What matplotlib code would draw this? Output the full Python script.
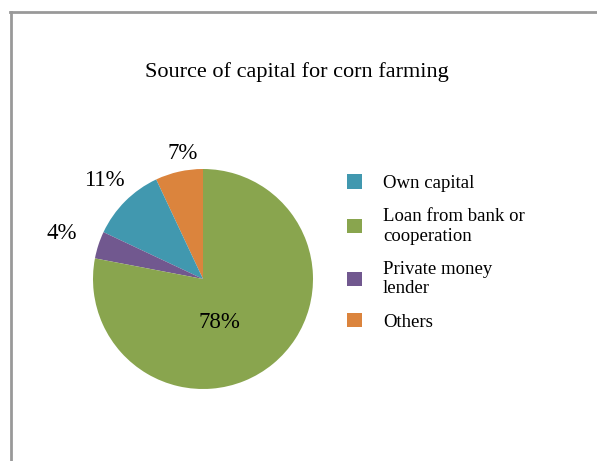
import numpy as np
import matplotlib.pyplot as plt
from matplotlib.lines import Line2D
from matplotlib.patches import Patch

plt.rcParams['font.family'] = ['Liberation Serif', 'DejaVu Serif']

# data
labels = ['Own capital', 'Loan from bank or\ncooperation', 'Private money\nlender', 'Others']
shares = [11, 78, 4, 7]
colors = ['#4198AF', '#89A54E', '#71588F', '#DB843D']

# drawing order around the pie (counter-clockwise from top)
order = [3, 0, 2, 1]
# label placement: (distance from centre, angle nudge in degrees)
label_pos = {3: (1.16, -3.5), 0: (1.27, 0), 2: (1.35, 0), 1: (0.42, -19)}

fig = plt.figure(figsize=(5.97, 4.61), dpi=100)

# chart frame (left and top edges only, as in the original)
fig.add_artist(Line2D([11 / 597, 11 / 597], [0, 1 - 12 / 461], color='#999999', lw=2))
fig.add_artist(Line2D([10 / 597, 1], [1 - 12 / 461, 1 - 12 / 461], color='#999999', lw=2))

fig.text(297 / 597, 1 - 72 / 461, 'Source of capital for corn farming',
         ha='center', va='center', fontsize=16)

r = 110
ax = fig.add_axes([(203 - r) / 597, (461 - 279 - r) / 461, 2 * r / 597, 2 * r / 461])
wedges, _ = ax.pie([shares[i] for i in order], colors=[colors[i] for i in order],
                   startangle=90, counterclock=True, radius=1)
ax.set_xlim(-1, 1)
ax.set_ylim(-1, 1)
ax.set_aspect('equal')
ax.axis('off')

for w, i in zip(wedges, order):
    d, nudge = label_pos[i]
    mid = np.deg2rad((w.theta1 + w.theta2) / 2 + nudge)
    ax.text(d * np.cos(mid), d * np.sin(mid), f'{shares[i]}%',
            ha='center', va='center', fontsize=16.5, clip_on=False)

handles = [Patch(facecolor=c, edgecolor='none') for c in colors]
fig.legend(handles, labels, loc='upper left', bbox_to_anchor=(338 / 597, 1 - 165 / 461),
           frameon=False, fontsize=13.5, handlelength=0.8, handleheight=0.8,
           handletextpad=1.1, labelspacing=0.85, borderpad=0)

fig.savefig('out.png', dpi=100)
